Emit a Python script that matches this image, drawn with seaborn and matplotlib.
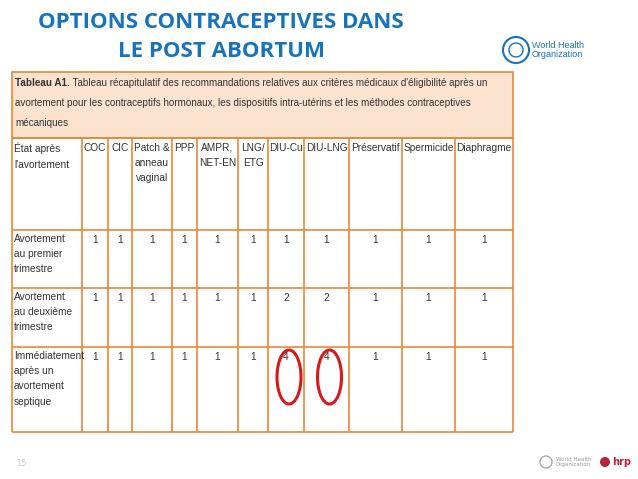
import matplotlib
matplotlib.use("Agg")
import matplotlib.pyplot as plt
from matplotlib.patches import Rectangle, Ellipse, Circle
import seaborn as sns

sns.set_theme(style="white")

title_lines = ["OPTIONS CONTRACEPTIVES DANS", "LE POST ABORTUM"]
caption_bold = "Tableau A1."
caption_lines = [" Tableau récapitulatif des recommandations relatives aux critères médicaux d'éligibilité après un",
                 "avortement pour les contraceptifs hormonaux, les dispositifs intra-utérins et les méthodes contraceptives",
                 "mécaniques"]
columns = ["État après\nl'avortement", "COC", "CIC", "Patch &\nanneau\nvaginal", "PPP", "AMPR,\nNET-EN",
           "LNG/\nETG", "DIU-Cu", "DIU-LNG", "Préservatif", "Spermicide", "Diaphragme"]
row_labels = ["Avortement\nau premier\ntrimestre",
              "Avortement\nau deuxième\ntrimestre",
              "Immédiatement\naprès un\navortement\nseptique"]
values = [
    [1, 1, 1, 1, 1, 1, 1, 1, 1, 1, 1],
    [1, 1, 1, 1, 1, 1, 2, 2, 1, 1, 1],
    [1, 1, 1, 1, 1, 1, 4, 4, 1, 1, 1],
]
highlight = [(2, 6), (2, 7)]

# layout (pixels)
col_x = [12, 82, 108, 132, 172, 197, 238, 268, 304, 349, 402, 455, 513]
row_y = [138, 230, 288, 347, 432]
band_top = 72

ORANGE = "#E8883A"
BLUE = "#1673BC"
TXT = "#333333"
FONT = "Liberation Sans"
FS = 7.3
CAP_FS = 7.1

fig = plt.figure(figsize=(6.38, 4.79), dpi=100)
ax = fig.add_axes([0, 0, 1, 1])
ax.set_xlim(0, 638)
ax.set_ylim(479, 0)
ax.axis("off")

# title
for k, line in enumerate(title_lines):
    ax.text(221, 22 + 29 * k, line, ha="center", va="center", fontsize=16, fontweight="bold",
            color=BLUE, family="Open Sans")

# WHO logo
ax.add_patch(Circle((516, 50), 13, fc="none", ec=BLUE, lw=1.5))
ax.add_patch(Circle((516, 50), 7, fc="none", ec=BLUE, lw=1))
ax.text(532, 50, "World Health\nOrganization", ha="left", va="center", fontsize=6.5,
        color=BLUE, family=FONT, linespacing=1.0)

# caption band
ax.add_patch(Rectangle((col_x[0], band_top), col_x[-1] - col_x[0], row_y[0] - band_top,
                       fc="#FBE3CF", ec=ORANGE, lw=1.2))
tb = ax.text(15, 78, caption_bold, ha="left", va="top", fontsize=CAP_FS, fontweight="bold",
             color=TXT, family=FONT)
fig.canvas.draw()
bb = tb.get_window_extent()
x_after = 15 + bb.width
for k, line in enumerate(caption_lines):
    ax.text(x_after if k == 0 else 15, 78 + 20 * k, line, ha="left", va="top", fontsize=CAP_FS,
            color=TXT, family=FONT)

# grid
ax.hlines(row_y, col_x[0], col_x[-1], color=ORANGE, lw=1.2)
ax.vlines(col_x, row_y[0], row_y[-1], color=ORANGE, lw=1.2)

for j, name in enumerate(columns):
    if j == 0:
        ax.text(col_x[0] + 2, row_y[0] + 5, name, ha="left", va="top", fontsize=FS,
                color=TXT, family=FONT, linespacing=1.65)
    else:
        xc = (col_x[j] + col_x[j + 1]) / 2
        ax.text(xc, row_y[0] + 5, name, ha="center", va="top", fontsize=FS,
                color=TXT, family=FONT, linespacing=1.65)

for i, lab in enumerate(row_labels):
    ax.text(col_x[0] + 2, row_y[i + 1] + 4, lab, ha="left", va="top", fontsize=FS,
            color=TXT, family=FONT, linespacing=1.65)
    for j, v in enumerate(values[i]):
        xc = (col_x[j + 1] + col_x[j + 2]) / 2
        ax.text(xc, row_y[i + 1] + 5, str(v), ha="center", va="top", fontsize=FS,
                color=TXT, family=FONT)

for i, j in highlight:
    xc = (col_x[j + 1] + col_x[j + 2]) / 2
    ax.add_patch(Ellipse((xc + 3, row_y[i + 1] + 30), 24, 54, fc="none", ec="#D7191C", lw=2.2))

# footer
ax.text(16, 463, "15", ha="left", va="center", fontsize=6, color="#CCCCCC")
ax.text(556, 462, "World Health\nOrganization", ha="left", va="center", fontsize=4,
        color="#999999", linespacing=1.0)
ax.add_patch(Circle((546, 462), 6, fc="none", ec="#AAAAAA", lw=1))
ax.add_patch(Circle((605, 462), 5, fc="#B5243A", ec="none"))
ax.text(612, 462, "hrp", ha="left", va="center", fontsize=7, fontweight="bold", color="#B5243A")

fig.savefig("out.png", dpi=100)
